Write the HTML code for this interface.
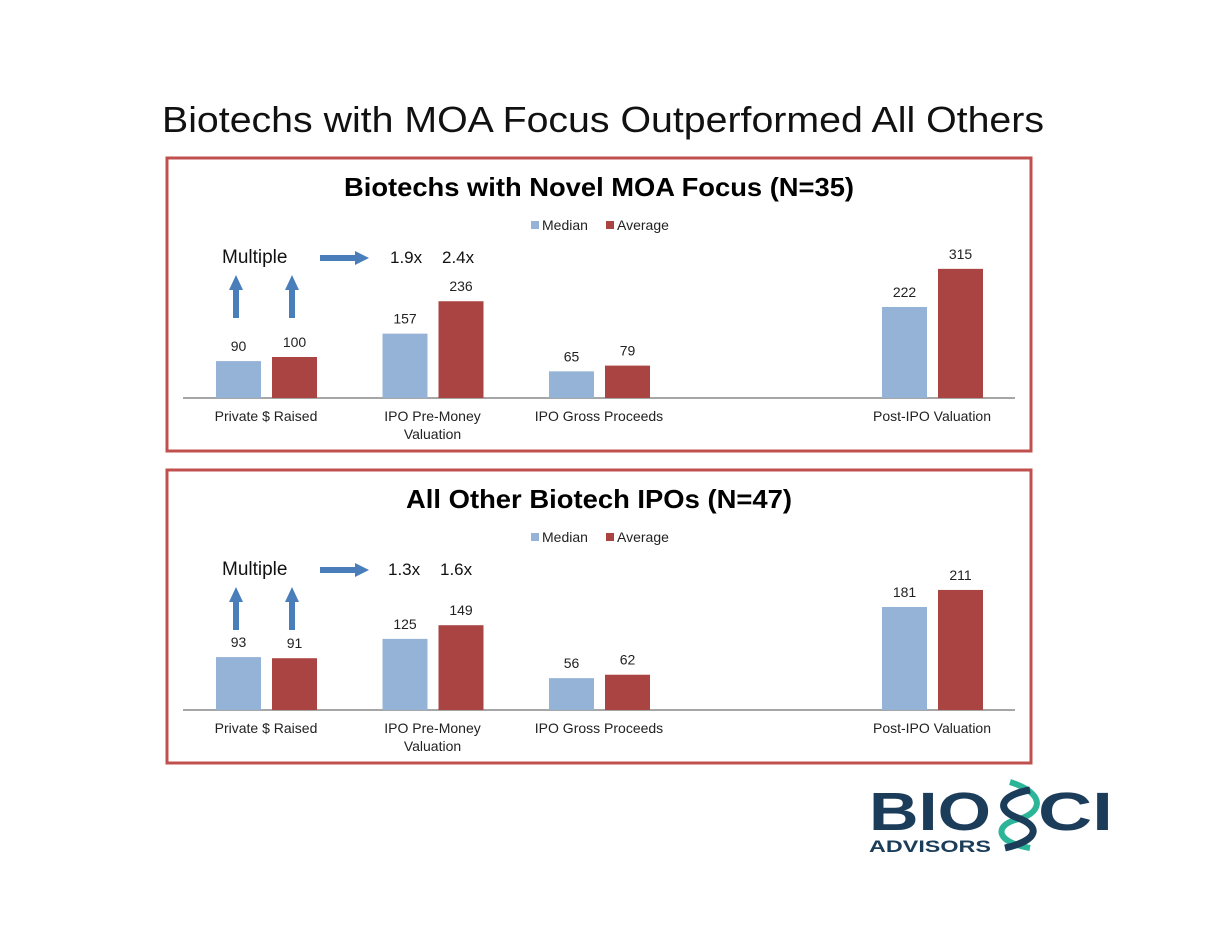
<!DOCTYPE html>
<html><head><meta charset="utf-8"><style>
html,body{margin:0;padding:0;background:#fff;}
svg{display:block;font-family:"Liberation Sans",sans-serif;}
</style></head><body>
<svg id="s" width="1210" height="935" viewBox="0 0 1210 935">
<text x="603" y="132" text-anchor="middle" font-size="36" textLength="882" lengthAdjust="spacingAndGlyphs" fill="#111">Biotechs with MOA Focus Outperformed All Others</text>
<g id="charts"></g>
<g>
<text x="869" y="830" font-size="54" font-weight="bold" fill="#1b3d5a" textLength="122" lengthAdjust="spacingAndGlyphs">BIO</text>
<text x="1038" y="830" font-size="54" font-weight="bold" fill="#1b3d5a" textLength="75" lengthAdjust="spacingAndGlyphs">CI</text>
<text x="869" y="852" font-size="17" font-weight="bold" fill="#1b3d5a" textLength="122" lengthAdjust="spacingAndGlyphs">ADVISORS</text>
<path d="M1010 782 C1050 795,1040 815,1015 820 C995 826,995 842,1030 848" stroke="#2db59a" stroke-width="6" fill="none"/>
<path d="M1030 790 C1000 795,995 810,1018 818 C1040 826,1040 840,1005 848" stroke="#1b3d5a" stroke-width="7" fill="none"/>
</g>
</svg>
<script>
const categories=["Private $ Raised","IPO Pre-Money|Valuation","IPO Gross Proceeds","","Post-IPO Valuation"];
const median1=[90,157,65,null,222];
const average1=[100,236,79,null,315];
const median2=[93,125,56,null,181];
const average2=[91,149,62,null,211];
const titles=["Biotechs with Novel MOA Focus (N=35)","All Other Biotech IPOs (N=47)"];
const multiples1=["1.9x","2.4x"];
const multiples2=["1.3x","1.6x"];
const NS="http://www.w3.org/2000/svg";
const root=document.getElementById('charts');
function mk(tag,attrs,parent,text){const e=document.createElementNS(NS,tag);for(const k in attrs)e.setAttribute(k,attrs[k]);if(text!==undefined)e.textContent=text;parent.appendChild(e);return e;}
function panel(oy,title,med,avg,mult,scale,idx,tlen){
  const g=mk('g',{},root);
  
  
  const box=mk('rect',{x:167,y:158+oy,width:864,height:293,fill:'none',stroke:'#c0504d','stroke-width':3},g);
  
  const t=mk('text',{x:599,y:196+oy,'text-anchor':'middle','font-size':26,'font-weight':'bold',fill:'#000',textLength:tlen,lengthAdjust:'spacingAndGlyphs'},g,title);
  
  const lg=mk('g',{},g);
  
  mk('rect',{x:531,y:221+oy,width:8,height:8,fill:'#95b3d7'},lg);
  mk('text',{x:542,y:230+oy,'font-size':14,fill:'#222'},lg,'Median');
  mk('rect',{x:606,y:221+oy,width:8,height:8,fill:'#a94442'},lg);
  mk('text',{x:617,y:230+oy,'font-size':14,fill:'#222'},lg,'Average');
  const base=398+oy;
  function xc(i){return 266+i*166.5;}
  function yv(v){return base-v*scale;}
  mk('line',{x1:183,x2:1015,y1:base,y2:base,stroke:'#888','stroke-width':1.5},g);
  categories.forEach((c,i)=>{
    if(!c)return;
    const lines=c.split('|');
    lines.forEach((l,j)=>{
      const tl=mk('text',{x:xc(i),y:421+oy+j*18,'text-anchor':'middle','font-size':14,fill:'#222'},g,l);
      
    });
    [[med,'#95b3d7',-50],[avg,'#a94442',6]].forEach(([arr,col,off],s)=>{
      const v=arr[i];if(v==null)return;
      const r=mk('rect',{x:xc(i)+off,y:yv(v),width:45,height:v*scale,fill:col},g);
      
      
      const vl=mk('text',{x:xc(i)+off+22.5,y:yv(v)-10,'text-anchor':'middle','font-size':14,fill:'#222'},g,String(v));
      
    });
  });
  const m=mk('text',{x:222,y:263+oy,'font-size':19,fill:'#111'},g,'Multiple');
  
  const ar=mk('path',{d:`M320 ${255+oy} H355 V${251+oy} L369 ${258+oy} L355 ${265+oy} V${261+oy} H320 Z`,fill:'#4a7ebb'},g);
  
  [236,292].forEach(x=>{
    const u=mk('path',{d:`M${x-3} ${318+oy} V${290+oy} H${x-7} L${x} ${275+oy} L${x+7} ${290+oy} H${x+3} V${318+oy} Z`,fill:'#4a7ebb'},g);
    
  });
  mult.forEach((mm,j)=>{
    const mt=mk('text',{x:(idx===1?390:388)+j*52,y:263+oy,'font-size':17,fill:'#111'},g,mm);
    
  });
}
panel(0,titles[0],median1,average1,multiples1,0.41,1,510);
panel(312,titles[1],median2,average2,multiples2,0.569,2,386);
</script>
</body></html>
